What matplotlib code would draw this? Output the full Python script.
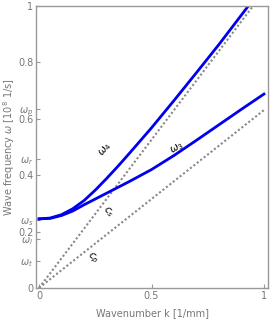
import numpy as np
import matplotlib
matplotlib.use('Agg')
import matplotlib.pyplot as plt

# dispersion branches (k in 1/mm, omega in 1e8 1/s)
k4 = [0.0, 0.05, 0.1, 0.15, 0.2, 0.25, 0.3, 0.35, 0.4, 0.5, 0.6, 0.7, 0.8, 0.93]
w4 = [0.245, 0.248, 0.26, 0.281, 0.31, 0.347, 0.388, 0.431, 0.476, 0.568, 0.665, 0.764, 0.864, 1.0]

k3 = [0.0, 0.05, 0.1, 0.15, 0.2, 0.3, 0.4, 0.5, 0.6, 0.7, 0.8, 0.9, 1.0]
w3 = [0.245, 0.247, 0.257, 0.273, 0.295, 0.336, 0.377, 0.42, 0.47, 0.524, 0.579, 0.634, 0.688]

# sound lines
ks_line = [0.0, 0.951]
ws_line = [0.0, 1.0]
kp_line = [0.0, 1.0]
wp_line = [0.0, 0.631]

ytick_vals = [0, 0.2, 0.4, 0.6, 0.8, 1]
ytick_text = ['0', '0.2', '0.4', '0.6', '0.8', '1']
omega_vals = [0.095, 0.174, 0.241, 0.457, 0.635]
omega_text = [r'$\omega_t$', r'$\omega_l$', r'$\omega_s$', r'$\omega_r$', r'$\omega_p$']

grey = '#777777'

fig = plt.figure(figsize=(2.71, 3.21), dpi=100)
ax = fig.add_axes([0.133, 0.103, 0.856, 0.878])

ax.plot(ks_line, ws_line, color='#888888', lw=1.5, ls=(0, (1, 1.1)))
ax.plot(kp_line, wp_line, color='#888888', lw=1.5, ls=(0, (1, 1.1)))
ax.plot(k4, w4, color='#0000ee', lw=2)
ax.plot(k3, w3, color='#0000ee', lw=2)

ax.text(0.293, 0.49, r'$\omega_4$', rotation=50, fontsize=7.5, ha='center', va='center')
ax.text(0.615, 0.497, r'$\omega_3$', rotation=32, fontsize=7.5, ha='center', va='center')
ax.text(0.307, 0.27, r'$c_s$', rotation=-45, fontsize=7.5, ha='center', va='center')
ax.text(0.24, 0.106, r'$c_p$', rotation=-40, fontsize=7.5, ha='center', va='center')

ax.set_xlim(-0.0133, 1.018)
ax.set_ylim(0, 1)
ax.set_xticks([0, 0.5, 1])
ax.set_xticklabels(['0', '0.5', '1'])
ax.set_yticks(ytick_vals + omega_vals)
ax.set_yticklabels(ytick_text + omega_text)
for lab in ax.get_yticklabels()[len(ytick_vals):]:
    lab.set_fontsize(6)

for s in ax.spines.values():
    s.set_color('#999999')
    s.set_linewidth(1)
ax.tick_params(direction='in', length=3, width=0.8, color='#999999',
               labelcolor=grey, labelsize=7, pad=2)

ax.set_xlabel('Wavenumber k [1/mm]', fontsize=7, color=grey, labelpad=5)
ax.set_ylabel(r'Wave frequency $\omega$ [10$^8$ 1/s]', fontsize=7, color=grey, labelpad=1)

fig.savefig('out.png', dpi=100)
